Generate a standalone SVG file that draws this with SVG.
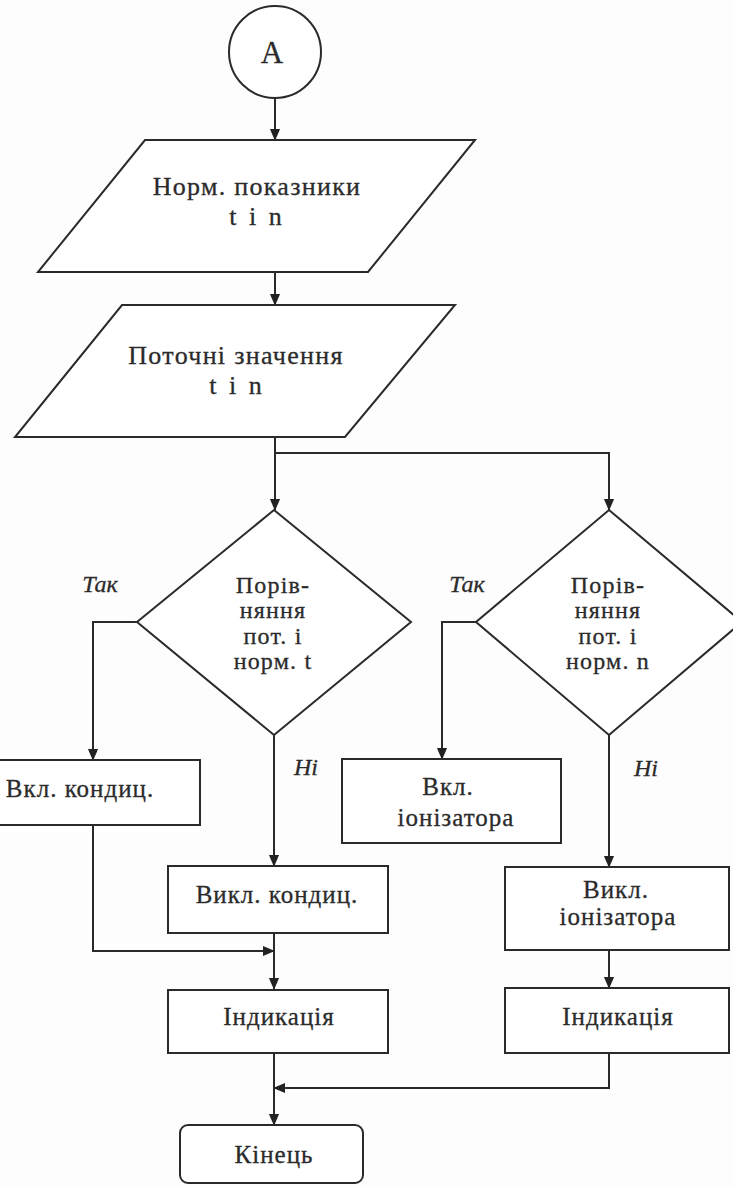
<svg xmlns="http://www.w3.org/2000/svg" width="733" height="1187" viewBox="0 0 733 1187">
<style>
.s{fill:#fff;stroke:#2a2a2a;stroke-width:2}
.c{fill:none;stroke:#2a2a2a;stroke-width:2}
text{font-family:'Liberation Serif','Tinos','Times New Roman','DejaVu Serif',serif;fill:#2b2b2b;stroke:#2b2b2b;stroke-width:0.3;text-anchor:middle}
.t{font-size:25px;letter-spacing:1px}
.d{font-size:24px;letter-spacing:1.2px}
.p{font-size:26px;letter-spacing:1.3px}
.i{font-size:24px;font-style:italic}
</style>
<defs>
<marker id="ah" markerWidth="12" markerHeight="14" refX="13" refY="6" orient="auto" markerUnits="userSpaceOnUse" viewBox="0 0 14 12">
<path d="M0,0 L14,6 L0,12 z" fill="#222"/>
</marker>
</defs>
<rect width="733" height="1187" fill="#fdfdfd"/>
<g id="connectors">
<path class="c" d="M275 98 V140" marker-end="url(#ah)"/>
<path class="c" d="M275 272 V305" marker-end="url(#ah)"/>
<path class="c" d="M275 437 V453 V510" marker-end="url(#ah)"/>
<path class="c" d="M275 453 H609 V510" marker-end="url(#ah)"/>
<path class="c" d="M137 622 H93 V760" marker-end="url(#ah)"/>
<path class="c" d="M274 735 V866" marker-end="url(#ah)"/>
<path class="c" d="M93 825 V951 H274" marker-end="url(#ah)"/>
<path class="c" d="M274 933 V989" marker-end="url(#ah)"/>
<path class="c" d="M476 622 H442 V759" marker-end="url(#ah)"/>
<path class="c" d="M609 735 V867" marker-end="url(#ah)"/>
<path class="c" d="M609 950 V988" marker-end="url(#ah)"/>
<path class="c" d="M609 1053 V1088 H274" marker-end="url(#ah)"/>
<path class="c" d="M274 1053 V1125" marker-end="url(#ah)"/>
</g>
<g id="start">
<circle class="s" cx="275" cy="52" r="46"/>
<text x="272" y="63" style="font-size:31px">А</text>
</g>
<g id="input1">
<polygon class="s" points="145,140 475,140 368,272 38,272"/>
<text class="p" x="257" y="195">Норм. показники</text>
<text class="p" x="257" y="225" style="letter-spacing:3px">t i n</text>
</g>
<g id="input2">
<polygon class="s" points="122,305 455,305 345,437 15,437"/>
<text class="p" x="236" y="364">Поточні значення</text>
<text class="p" x="237" y="394" style="letter-spacing:3px">t i n</text>
</g>
<g id="decision1">
<polygon class="s" points="274,510 411,622 274,735 137,622"/>
<text class="d" x="273" y="593">Порів-</text>
<text class="d" x="273" y="618">няння</text>
<text class="d" x="273" y="644">пот. і</text>
<text class="d" x="273" y="669">норм. t</text>
</g>
<text class="i" x="100" y="592">Так</text>
<text class="i" x="306" y="775">Ні</text>
<g id="decision2">
<polygon class="s" points="609,510 742,622 609,735 476,622"/>
<text class="d" x="608" y="593">Порів-</text>
<text class="d" x="608" y="618">няння</text>
<text class="d" x="608" y="644">пот. і</text>
<text class="d" x="608" y="669">норм. n</text>
</g>
<text class="i" x="467" y="592">Так</text>
<text class="i" x="646" y="776">Ні</text>
<g id="on_cond">
<rect class="s" x="-42" y="760" width="242" height="65"/>
<text class="t" x="80" y="797">Вкл. кондиц.</text>
</g>
<g id="on_ion">
<rect class="s" x="342" y="759" width="219" height="84"/>
<text class="t" x="448" y="795">Вкл.</text>
<text class="t" x="456" y="826">іонізатора</text>
</g>
<g id="off_cond">
<rect class="s" x="168" y="866" width="220" height="67"/>
<text class="t" x="277" y="903">Викл. кондиц.</text>
</g>
<g id="off_ion">
<rect class="s" x="505" y="867" width="224" height="83"/>
<text class="t" x="616" y="898">Викл.</text>
<text class="t" x="618" y="925">іонізатора</text>
</g>
<g id="ind1">
<rect class="s" x="168" y="990" width="220" height="63"/>
<text class="t" x="279" y="1025">Індикація</text>
</g>
<g id="ind2">
<rect class="s" x="505" y="988" width="224" height="65"/>
<text class="t" x="618" y="1025">Індикація</text>
</g>
<g id="end">
<rect class="s" x="180" y="1125" width="183" height="58" rx="8"/>
<text class="t" x="274" y="1163">Кінець</text>
</g>
</svg>
